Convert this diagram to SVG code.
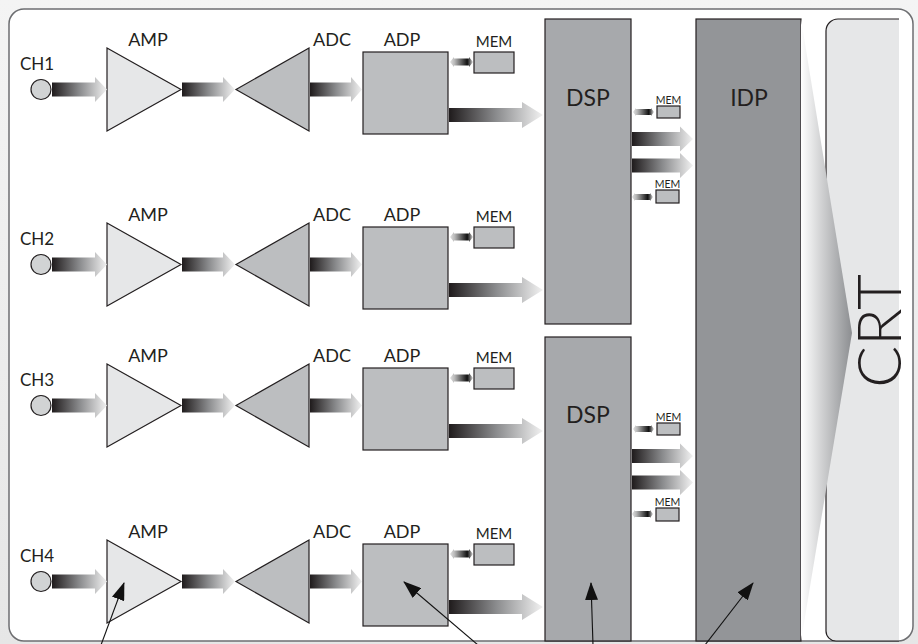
<svg xmlns="http://www.w3.org/2000/svg" width="918" height="644" viewBox="0 0 918 644">
<defs>
<linearGradient id="ga" x1="0" y1="0" x2="1" y2="0">
<stop offset="0" stop-color="#1f1b1c"/>
<stop offset="0.5" stop-color="#8a8b8d"/>
<stop offset="1" stop-color="#f2f2f2"/>
</linearGradient>
<linearGradient id="gb" x1="0" y1="0" x2="1" y2="0">
<stop offset="0" stop-color="#e2e2e2"/>
<stop offset="0.2" stop-color="#b8b8b8"/>
<stop offset="0.75" stop-color="#111111"/>
<stop offset="0.85" stop-color="#555555"/>
<stop offset="1" stop-color="#dddddd"/>
</linearGradient>
<linearGradient id="gw" gradientUnits="userSpaceOnUse" x1="801" y1="0" x2="852" y2="0">
<stop offset="0" stop-color="#ffffff"/>
<stop offset="1" stop-color="#8c8e91"/>
</linearGradient>
<linearGradient id="gbg" x1="0" y1="0" x2="0" y2="1">
<stop offset="0" stop-color="#f4f4f4"/>
<stop offset="1" stop-color="#e6e6e6"/>
</linearGradient>
<marker id="ah" markerUnits="userSpaceOnUse" markerWidth="18" markerHeight="13" refX="17" refY="6.5" orient="auto">
<path d="M0,0 L18,6.5 L0,13 Z" fill="#111"/>
</marker>
<style>
.t{font-family:Lato,"Open Sans","DejaVu Sans",sans-serif;fill:#231f20;font-weight:400}
.lb{font-size:18px;text-anchor:middle}
.ch{font-size:17px}
.mm{font-size:15px;text-anchor:middle}
.ms{font-size:10.5px;text-anchor:middle}
.big{font-size:23px;text-anchor:middle}
.crt{font-size:62px;font-weight:300;text-anchor:middle}
.ed{stroke:#231f20;stroke-width:1.2}
.amp{fill:#e6e7e8}
.mid{fill:#bcbec0}
.dsp{fill:#a7a9ac}
.idp{fill:#939598}
.ar{fill:url(#ga)}
.bi{fill:url(#gb)}
.co{stroke:#111;stroke-width:1.1;fill:none;marker-end:url(#ah)}
</style>
</defs>
<rect x="0" y="0" width="918" height="644" fill="url(#gbg)"/>
<rect x="9" y="9" width="904" height="632" rx="15" fill="#ffffff" stroke="#6d6e71" stroke-width="1.5"/>

<g id="crt">
<path d="M899,19 H838 A12,12 0 0 0 826,31 V631 A10,10 0 0 0 836,641 H899" fill="#e6e7e8" class="ed"/>
<text class="t crt" transform="translate(901,331) rotate(-90)">CRT</text>
</g>
<g id="idp">
<rect x="696" y="19" width="105" height="622" class="idp ed"/>
<text class="t big" x="749" y="106">IDP</text>
</g>
<g id="wedge">
<path d="M801,19 L852,333 L801,641 Z" fill="url(#gw)"/>
</g>
<g id="dsp1">
<rect x="545" y="19" width="86" height="305" class="dsp ed"/>
<text class="t big" x="588" y="106">DSP</text>
</g>
<g id="dsp2">
<rect x="545" y="337" width="86" height="304" class="dsp ed"/>
<text class="t big" x="588" y="423">DSP</text>
</g>
<g id="dsp1-mem1"><text class="t ms" x="668.5" y="104">MEM</text><rect x="657" y="106" width="23" height="12" class="mid ed"/></g>
<g id="dsp1-mem2"><text class="t ms" x="667.5" y="188">MEM</text><rect x="656" y="190" width="23" height="13" class="mid ed"/></g>
<g id="dsp2-mem1"><text class="t ms" x="668.5" y="421">MEM</text><rect x="657" y="423" width="23" height="12" class="mid ed"/></g>
<g id="dsp2-mem2"><text class="t ms" x="667.5" y="506">MEM</text><rect x="656" y="508" width="23" height="13" class="mid ed"/></g>

<g id="row1">
<g id="ch1"><text class="t ch" x="20" y="70">CH1</text><circle cx="41" cy="89.5" r="10" fill="#d1d3d4" class="ed"/></g>
<g id="amp1"><text class="t lb" x="148" y="46">AMP</text><path d="M107,48 L181,89.5 L107,131 Z" class="amp ed"/></g>
<g id="adc1"><text class="t lb" x="332" y="46">ADC</text><path d="M236,89.5 L309,48 L309,131 Z" class="mid ed"/></g>
<g id="adp1"><text class="t lb" x="402" y="46">ADP</text><rect x="363" y="52" width="85" height="82" class="mid ed"/></g>
<g id="mem1"><text class="t mm" x="494" y="47">MEM</text><rect x="474" y="52" width="40" height="21" class="mid ed"/></g>
</g>
<g id="row2">
<g id="ch2"><text class="t ch" x="20" y="245">CH2</text><circle cx="41" cy="264.5" r="10" fill="#d1d3d4" class="ed"/></g>
<g id="amp2"><text class="t lb" x="148" y="221">AMP</text><path d="M107,223 L181,264.5 L107,306 Z" class="amp ed"/></g>
<g id="adc2"><text class="t lb" x="332" y="221">ADC</text><path d="M236,264.5 L309,223 L309,306 Z" class="mid ed"/></g>
<g id="adp2"><text class="t lb" x="402" y="221">ADP</text><rect x="363" y="227" width="85" height="82" class="mid ed"/></g>
<g id="mem2"><text class="t mm" x="494" y="222">MEM</text><rect x="474" y="227" width="40" height="21" class="mid ed"/></g>
</g>
<g id="row3">
<g id="ch3"><text class="t ch" x="20" y="386">CH3</text><circle cx="41" cy="405.5" r="10" fill="#d1d3d4" class="ed"/></g>
<g id="amp3"><text class="t lb" x="148" y="362">AMP</text><path d="M107,364 L181,405.5 L107,447 Z" class="amp ed"/></g>
<g id="adc3"><text class="t lb" x="332" y="362">ADC</text><path d="M236,405.5 L309,364 L309,447 Z" class="mid ed"/></g>
<g id="adp3"><text class="t lb" x="402" y="362">ADP</text><rect x="363" y="368" width="85" height="82" class="mid ed"/></g>
<g id="mem3"><text class="t mm" x="494" y="363">MEM</text><rect x="474" y="368" width="40" height="21" class="mid ed"/></g>
</g>
<g id="row4">
<g id="ch4"><text class="t ch" x="20" y="562">CH4</text><circle cx="41" cy="581.5" r="10" fill="#d1d3d4" class="ed"/></g>
<g id="amp4"><text class="t lb" x="148" y="538">AMP</text><path d="M107,540 L181,581.5 L107,623 Z" class="amp ed"/></g>
<g id="adc4"><text class="t lb" x="332" y="538">ADC</text><path d="M236,581.5 L309,540 L309,623 Z" class="mid ed"/></g>
<g id="adp4"><text class="t lb" x="402" y="538">ADP</text><rect x="363" y="544" width="85" height="82" class="mid ed"/></g>
<g id="mem4"><text class="t mm" x="494" y="539">MEM</text><rect x="474" y="544" width="40" height="21" class="mid ed"/></g>
</g>

<g id="connectors">
<path class="ar" d="M52,82.5 H95 V77 L107,89.5 L95,102 V96.5 H52 Z"/>
<path class="ar" d="M182,82.5 H223 V77 L235,89.5 L223,102 V96.5 H182 Z"/>
<path class="ar" d="M310,82.5 H351 V77 L362,89.5 L351,102 V96.5 H310 Z"/>
<path class="bi" d="M450,62 L454,57 V58.5 H469 V57 L473,62 L469,67 V65.5 H454 V67 Z"/>
<path class="ar" d="M449,108 H522 V102 L543,115 L522,128 V122 H449 Z"/>

<path class="ar" d="M52,257.5 H95 V252 L107,264.5 L95,277 V271.5 H52 Z"/>
<path class="ar" d="M182,257.5 H223 V252 L235,264.5 L223,277 V271.5 H182 Z"/>
<path class="ar" d="M310,257.5 H351 V252 L362,264.5 L351,277 V271.5 H310 Z"/>
<path class="bi" d="M450,237 L454,232 V233.5 H469 V232 L473,237 L469,242 V240.5 H454 V242 Z"/>
<path class="ar" d="M449,283 H522 V277 L543,290 L522,303 V297 H449 Z"/>

<path class="ar" d="M52,398.5 H95 V393 L107,405.5 L95,418 V412.5 H52 Z"/>
<path class="ar" d="M182,398.5 H223 V393 L235,405.5 L223,418 V412.5 H182 Z"/>
<path class="ar" d="M310,398.5 H351 V393 L362,405.5 L351,418 V412.5 H310 Z"/>
<path class="bi" d="M450,378 L454,373 V374.5 H469 V373 L473,378 L469,383 V381.5 H454 V383 Z"/>
<path class="ar" d="M449,424 H522 V418 L543,431 L522,444 V438 H449 Z"/>

<path class="ar" d="M52,574.5 H95 V569 L107,581.5 L95,594 V588.5 H52 Z"/>
<path class="ar" d="M182,574.5 H223 V569 L235,581.5 L223,594 V588.5 H182 Z"/>
<path class="ar" d="M310,574.5 H351 V569 L362,581.5 L351,594 V588.5 H310 Z"/>
<path class="bi" d="M450,554 L454,549 V550.5 H469 V549 L473,554 L469,559 V557.5 H454 V559 Z"/>
<path class="ar" d="M449,600 H522 V594 L543,607 L522,620 V614 H449 Z"/>

<path class="bi" d="M633,112 L636,108 V109 H651 V108 L654,112 L651,116 V115 H636 V116 Z"/>
<path class="ar" d="M632,132 H680 V126.5 L693,139 L680,151.5 V146 H632 Z"/>
<path class="ar" d="M632,158.5 H680 V153 L693,165.5 L680,178 V172.5 H632 Z"/>
<path class="bi" d="M632,197 L635,193 V194 H650 V193 L653,197 L650,201 V200 H635 V201 Z"/>

<path class="bi" d="M633,429 L636,425 V426 H651 V425 L654,429 L651,433 V432 H636 V433 Z"/>
<path class="ar" d="M632,449 H680 V443.5 L693,456 L680,468.5 V463 H632 Z"/>
<path class="ar" d="M632,475.5 H680 V470 L693,482.5 L680,495 V489.5 H632 Z"/>
<path class="bi" d="M632,514 L635,510 V511 H650 V510 L653,514 L650,518 V517 H635 V518 Z"/>

<line class="co" x1="101" y1="645" x2="124" y2="583"/>
<line class="co" x1="478" y1="645" x2="404" y2="582"/>
<line class="co" x1="593" y1="645" x2="591" y2="583"/>
<line class="co" x1="705" y1="645" x2="753" y2="583"/>
</g>
</svg>
